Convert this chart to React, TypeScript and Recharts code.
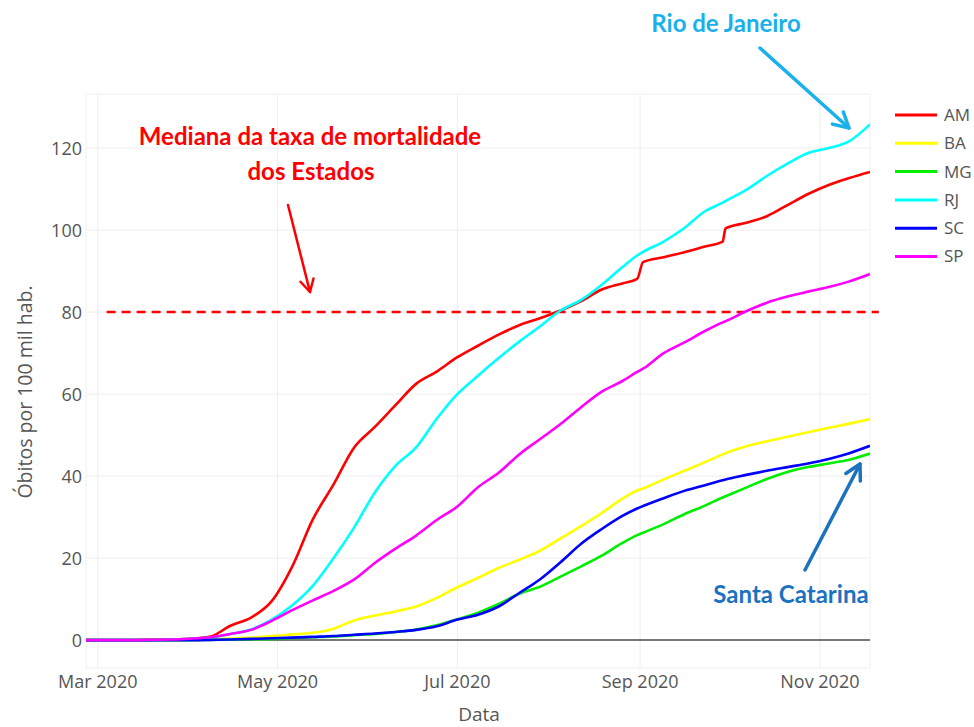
import React from "react";
import { LineChart, Line, XAxis, YAxis, CartesianGrid, ReferenceLine } from "recharts";

// dias contados a partir de 1 de março de 2020
const days = [
  -4, 3, 10, 17, 24, 31, 38, 45, 52, 59, 66, 73, 80, 87, 94, 101, 108, 115, 122, 129, 136, 143,
  150, 157, 164, 171, 178, 183, 185, 192, 199, 206, 212, 213, 220, 227, 234, 241, 248, 255, 262,
];

const am = [
  0, 0, 0, 0.05, 0.15, 0.3, 0.8, 3.5, 5.5, 9.5, 18, 29.5, 38, 47, 52, 57.3, 62.5, 65.5, 69, 71.8, 74.5,
  76.8, 78.5, 80.4, 82.7, 85.5, 87, 88.1, 92.2, 93.4, 94.6, 96, 97.2, 100.4, 101.8, 103.4, 106.1, 108.8,
  111, 112.7, 114.2,
];
const ba = [
  0, 0, 0, 0, 0, 0.1, 0.2, 0.4, 0.6, 1.0, 1.4, 1.8, 2.8, 4.8, 6, 7, 8.2, 10.3, 12.9, 15.2, 17.6, 19.6,
  21.8, 24.8, 27.8, 31, 34.5, 36.5, 37, 39.2, 41.3, 43.4, 45.3, 45.6, 47.3, 48.5, 49.6, 50.7, 51.8,
  52.8, 53.9,
];
const mg = [
  0, 0, 0, 0, 0, 0, 0.05, 0.1, 0.2, 0.3, 0.5, 0.7, 0.9, 1.2, 1.5, 2.0, 2.6, 3.6, 5.1, 6.7, 8.8, 11.3,
  13, 15.5, 18, 20.6, 23.7, 25.6, 26.2, 28.3, 30.7, 32.8, 34.8, 35.1, 37.2, 39.3, 41, 42.2, 43.1, 44,
  45.5,
];
const rj = [
  0, 0, 0, 0, 0.1, 0.3, 0.6, 1.5, 2.6, 5, 8.5, 13.3, 20, 27.5, 36, 42.5, 47, 54, 60, 64.5, 68.8, 72.8,
  76.5, 80.4, 83, 86.7, 91, 93.8, 94.7, 97.2, 100.5, 104.6, 106.7, 107.1, 109.8, 113.2, 116.2, 118.8,
  120, 121.7, 125.8,
];
const sc = [
  0, 0, 0, 0, 0, 0, 0.05, 0.15, 0.3, 0.45, 0.6, 0.8, 1.0, 1.3, 1.6, 2.0, 2.5, 3.4, 5.0, 6.2, 8.2, 11.5,
  14.8, 19, 23.5, 27.1, 30.3, 32.1, 32.7, 34.6, 36.4, 37.8, 39, 39.2, 40.3, 41.3, 42.2, 43.1, 44.2,
  45.6, 47.4,
];
const sp = [
  0, 0, 0, 0.05, 0.15, 0.35, 0.7, 1.5, 2.5, 4.7, 7.3, 9.7, 12, 14.8, 18.8, 22.3, 25.5, 29.3, 32.6,
  37.3, 40.8, 45.3, 49, 52.7, 56.8, 60.6, 63.2, 65.4, 66.2, 70, 72.6, 75.4, 77.5, 77.8, 80.2, 82.3,
  83.8, 85, 86.1, 87.5, 89.3,
];

const series = [
  { key: "AM", color: "#ff0000", values: am },
  { key: "BA", color: "#ffff00", values: ba },
  { key: "MG", color: "#00ee00", values: mg },
  { key: "RJ", color: "#00ffff", values: rj },
  { key: "SC", color: "#0000ff", values: sc },
  { key: "SP", color: "#ff00ff", values: sp },
];

const xTicks = [0, 61, 122, 184, 245];
const xTickLabels = ["Mar 2020", "May 2020", "Jul 2020", "Sep 2020", "Nov 2020"];
const yTicks = [0, 20, 40, 60, 80, 100, 120];
const mediana = 80;

const data = days.map((d, i) => {
  const row: Record<string, number> = { day: d };
  series.forEach((s) => (row[s.key] = s.values[i]));
  return row;
});

const font = "'Open Sans', verdana, arial, sans-serif";
const noteFont = "Lato, 'Open Sans', sans-serif";

function Arrow({ x1, y1, x2, y2, color, width, head }: any) {
  const a = Math.atan2(y2 - y1, x2 - x1);
  const w1 = [x2 - head * Math.cos(a - 0.5), y2 - head * Math.sin(a - 0.5)];
  const w2 = [x2 - head * Math.cos(a + 0.5), y2 - head * Math.sin(a + 0.5)];
  return (
    <g stroke={color} strokeWidth={width} strokeLinecap="round" fill="none">
      <line x1={x1} y1={y1} x2={x2} y2={y2} />
      <polyline points={`${w1[0]},${w1[1]} ${x2},${y2} ${w2[0]},${w2[1]}`} strokeLinejoin="round" />
    </g>
  );
}

export default function App() {
  return (
    <div style={{ position: "absolute", left: 0, top: 0, width: 974, height: 727, background: "#fff" }}>
      <LineChart width={974} height={727} data={data} margin={{ top: 94, right: 104, bottom: 0, left: 0 }}>
        <CartesianGrid stroke="#eeeeee" strokeWidth={1} />
        <XAxis
          dataKey="day"
          type="number"
          domain={[-4, 262]}
          ticks={xTicks}
          tickFormatter={(v: number) => xTickLabels[xTicks.indexOf(v)]}
          height={59}
          axisLine={false}
          tickLine={false}
          tickSize={0}
          tickMargin={7}
          tick={{ fill: "#555", fontSize: 18, fontFamily: font }}
          allowDataOverflow
        />
        <YAxis
          type="number"
          domain={[-6.8, 133.2]}
          ticks={yTicks}
          width={86}
          axisLine={false}
          tickLine={false}
          tickSize={4}
          tickMargin={0}
          tick={{ fill: "#555", fontSize: 18, fontFamily: font }}
          allowDataOverflow
        />
        <ReferenceLine y={0} stroke="#777" strokeWidth={2} />
        <ReferenceLine
          segment={[
            { x: 3, y: mediana },
            { x: 265, y: mediana },
          ]}
          stroke="#ff0000"
          strokeWidth={2.5}
          strokeDasharray="9 6"
          ifOverflow="visible"
        />
        {series.map((s) => (
          <Line
            key={s.key}
            dataKey={s.key}
            stroke={s.color}
            strokeWidth={2.6}
            type="monotone"
            dot={false}
            isAnimationActive={false}
          />
        ))}
      </LineChart>
      <svg width={974} height={727} style={{ position: "absolute", left: 0, top: 0, pointerEvents: "none" }}>
        {series.map((s, i) => (
          <g key={s.key}>
            <line x1={895} x2={937} y1={115 + i * 28.3} y2={115 + i * 28.3} stroke={s.color} strokeWidth={3} />
            <text x={944} y={115 + i * 28.3} dy="0.35em" fill="#555" fontSize={17} fontFamily={font}>
              {s.key}
            </text>
          </g>
        ))}
        <text x={479} y={721} textAnchor="middle" fill="#555" fontSize={19} fontFamily={font}>
          Data
        </text>
        <text
          transform="translate(32,392) rotate(-90)"
          textAnchor="middle"
          fill="#555"
          fontSize={19.5}
          fontFamily={font}
        >
          Óbitos por 100 mil hab.
        </text>
        <text x={310} y={145} textAnchor="middle" fill="#ff0000" fontSize={24} fontWeight={700} fontFamily={noteFont}>
          Mediana da taxa de mortalidade
        </text>
        <text x={311} y={180} textAnchor="middle" fill="#ff0000" fontSize={24} fontWeight={700} fontFamily={noteFont}>
          dos Estados
        </text>
        <Arrow x1={288} y1={205} x2={310} y2={292} color="#ff0000" width={2.5} head={14} />
        <text x={726} y={32} textAnchor="middle" fill="#1ab0ec" fontSize={24} fontWeight={700} fontFamily={noteFont}>
          Rio de Janeiro
        </text>
        <Arrow x1={760} y1={48} x2={849} y2={128} color="#1ab0ec" width={3.5} head={17} />
        <text x={791} y={603} textAnchor="middle" fill="#1a72c0" fontSize={24} fontWeight={700} fontFamily={noteFont}>
          Santa Catarina
        </text>
        <Arrow x1={805} y1={570} x2={860} y2={464} color="#1a72c0" width={3.5} head={17} />
      </svg>
    </div>
  );
}
